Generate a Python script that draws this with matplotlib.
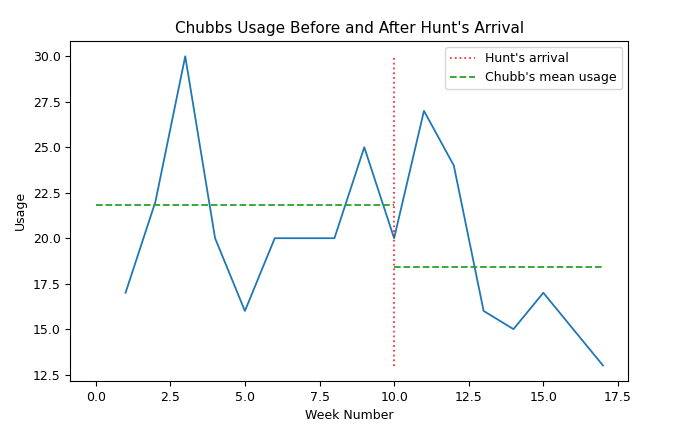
import matplotlib.pyplot as plt

# weekly usage
weeks = [1, 2, 3, 4, 5, 6, 7, 8, 9, 10, 11, 12, 13, 14, 15, 16, 17]
usage = [17, 22, 30, 20, 16, 20, 20, 20, 25, 20, 27, 24, 16, 15, 17, 15, 13]

arrival_week = 10
arrival_span = [13, 30]          # vertical marker extent
mean_before_span = [0, 10]
mean_before = 21.85
mean_after_span = [10, 17]
mean_after = 18.4

plt.rcParams['font.size'] = 9

fig = plt.figure(figsize=(6.83, 4.30), dpi=100)
ax = fig.add_axes([0.103, 0.114, 0.817, 0.791])

ax.plot(weeks, usage, color='#1f77b4', linewidth=1.3)
ax.plot([arrival_week, arrival_week], arrival_span, color='red', linestyle=':',
        linewidth=1.3, alpha=0.8, label="Hunt's arrival")
ax.plot(mean_before_span, [mean_before, mean_before], color='tab:green',
        linestyle='--', linewidth=1.3, label="Chubb's mean usage")
ax.plot(mean_after_span, [mean_after, mean_after], color='tab:green',
        linestyle='--', linewidth=1.3)

ax.set_xticks([0, 2.5, 5, 7.5, 10, 12.5, 15, 17.5])
ax.set_yticks([12.5, 15, 17.5, 20, 22.5, 25, 27.5, 30])
ax.set_xlim(-0.85, 17.85)
ax.set_ylim(12.15, 30.85)

ax.set_title("Chubbs Usage Before and After Hunt's Arrival", fontsize=11)
ax.set_xlabel("Week Number")
ax.set_ylabel("Usage")
ax.legend(loc='upper right')

fig.savefig('out.png', dpi=100)
